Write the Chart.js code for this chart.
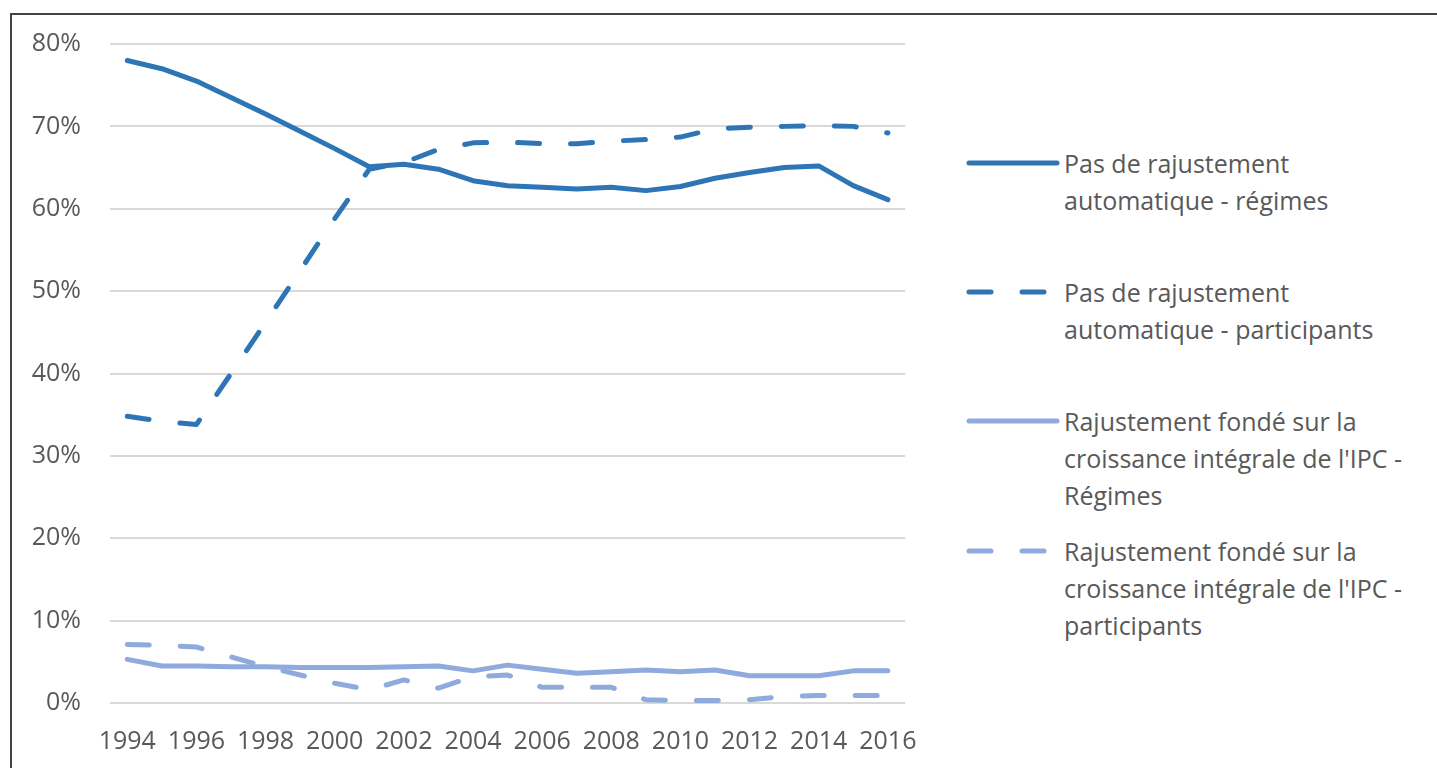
<!DOCTYPE html>
<html lang="fr">
<head>
    <meta charset="UTF-8">
    <title>Rajustement automatique</title>
    <script src="https://cdn.jsdelivr.net/npm/chart.js@4"></script>
    <style>
        body {
            margin: 0;
            background: #fff;
            font-family: "Open Sans", sans-serif;
        }

        .frame {
            position: absolute;
            left: 10px;
            top: 13px;
            width: 1440px;
            height: 800px;
            border-left: 2px solid #444;
            border-top: 2px solid #444;
        }

        .chart-box {
            position: absolute;
            left: 0;
            top: 0;
            width: 941px;
            height: 768px;
        }

        #legend {
            position: absolute;
            left: 966px;
            top: 0;
            color: #595959;
            font-size: 25px;
            line-height: 37px;
        }

        .leg-item {
            position: absolute;
            left: 0;
            width: 460px;
        }

        .leg-item svg {
            position: absolute;
            left: 0;
            top: 8px;
        }

        .leg-item span {
            display: block;
            margin-left: 98px;
            white-space: nowrap;
        }
    </style>
</head>
<body>
    <div class="frame"></div>
    <div class="chart-box">
        <canvas id="chart"></canvas>
    </div>
    <div id="legend"></div>
    <script>
        const years = [1994, 1995, 1996, 1997, 1998, 1999, 2000, 2001, 2002, 2003, 2004, 2005,
            2006, 2007, 2008, 2009, 2010, 2011, 2012, 2013, 2014, 2015, 2016];

        // valeurs en %
        const pasRajRegimes = [78.0, 77.0, 75.5, 73.5, 71.5, 69.4, 67.3, 65.1, 65.4, 64.8, 63.4, 62.8,
            62.6, 62.4, 62.6, 62.2, 62.7, 63.7, 64.4, 65.0, 65.2, 62.8, 61.1];
        const pasRajParticipants = [34.8, 34.2, 33.8, 40.0, 46.2, 52.5, 58.8, 64.8, 65.6, 67.2, 68.0, 68.1,
            67.9, 67.9, 68.2, 68.4, 68.7, 69.7, 69.9, 70.0, 70.1, 70.0, 69.2];
        const ipcRegimes = [5.3, 4.5, 4.5, 4.4, 4.4, 4.3, 4.3, 4.3, 4.4, 4.5, 3.9, 4.6,
            4.1, 3.6, 3.8, 4.0, 3.8, 4.0, 3.3, 3.3, 3.3, 3.9, 3.9];
        const ipcParticipants = [7.1, 7.0, 6.8, 5.6, 4.4, 3.4, 2.4, 1.6, 2.8, 1.8, 3.2, 3.4,
            1.9, 1.9, 1.9, 0.4, 0.3, 0.3, 0.4, 0.8, 0.9, 0.9, 0.9];

        const seriesNames = [
            ['Pas de rajustement', 'automatique - régimes'],
            ['Pas de rajustement', 'automatique - participants'],
            ['Rajustement fondé sur la', "croissance intégrale de l'IPC -", 'Régimes'],
            ['Rajustement fondé sur la', "croissance intégrale de l'IPC -", 'participants']
        ];
        const yTicks = [0, 10, 20, 30, 40, 50, 60, 70, 80];

        const darkBlue = 'rgb(46, 117, 182)';
        const lightBlue = 'rgb(143, 170, 220)';
        const dash = [22, 31];

        function makeSet(name, values, color, dashed) {
            return {
                label: name.join(' '),
                data: values,
                borderColor: color,
                backgroundColor: color,
                borderWidth: 5,
                borderDash: dashed ? dash : [],
                borderCapStyle: 'round',
                borderJoinStyle: 'round',
                pointRadius: 0,
                tension: 0,
                fill: false
            };
        }

        const datasets = [
            makeSet(seriesNames[0], pasRajRegimes, darkBlue, false),
            makeSet(seriesNames[1], pasRajParticipants, darkBlue, true),
            makeSet(seriesNames[2], ipcRegimes, lightBlue, false),
            makeSet(seriesNames[3], ipcParticipants, lightBlue, true)
        ];

        const tickFont = { family: 'Open Sans', size: 25 };

        new Chart(document.getElementById('chart'), {
            type: 'line',
            data: {
                labels: years,
                datasets: datasets
            },
            options: {
                responsive: true,
                maintainAspectRatio: false,
                animation: false,
                layout: {
                    padding: { top: 44, right: 26, bottom: 0, left: 0 }
                },
                plugins: {
                    legend: { display: false },
                    tooltip: { enabled: false }
                },
                scales: {
                    x: {
                        offset: true,
                        grid: { display: false, drawTicks: false },
                        border: { display: false },
                        ticks: {
                            autoSkip: false,
                            maxRotation: 0,
                            padding: 24,
                            color: '#595959',
                            font: tickFont,
                            callback: function (v, i) {
                                return i % 2 === 0 ? years[i] : '';
                            }
                        },
                        afterFit: function (scale) {
                            scale.height = 65;
                        }
                    },
                    y: {
                        min: 0,
                        max: 80,
                        afterBuildTicks: function (scale) {
                            scale.ticks = yTicks.map(v => ({ value: v }));
                        },
                        grid: { color: '#d9d9d9', lineWidth: 2, drawTicks: false },
                        border: { display: false },
                        ticks: {
                            padding: 29,
                            color: '#595959',
                            font: tickFont,
                            callback: v => v + '%'
                        },
                        afterFit: function (scale) {
                            scale.width = 110;
                        }
                    }
                }
            }
        });

        // légende à droite, construite à partir des séries
        const legendTops = [145, 274, 403, 533];
        const legend = document.getElementById('legend');
        datasets.forEach(function (ds, i) {
            const item = document.createElement('div');
            item.className = 'leg-item';
            item.style.top = legendTops[i] + 'px';
            const dashAttr = ds.borderDash.length ? ' stroke-dasharray="' + ds.borderDash.join(' ') + '"' : '';
            item.innerHTML =
                '<svg width="100" height="20"><line x1="3" y1="10" x2="' + (ds.borderDash.length ? 85 : 91) +
                '" y2="10" stroke="' + ds.borderColor + '" stroke-width="5" stroke-linecap="round"' + dashAttr + '/></svg>' +
                seriesNames[i].map(t => '<span>' + t + '</span>').join('');
            legend.appendChild(item);
        });
    </script>
</body>
</html>
